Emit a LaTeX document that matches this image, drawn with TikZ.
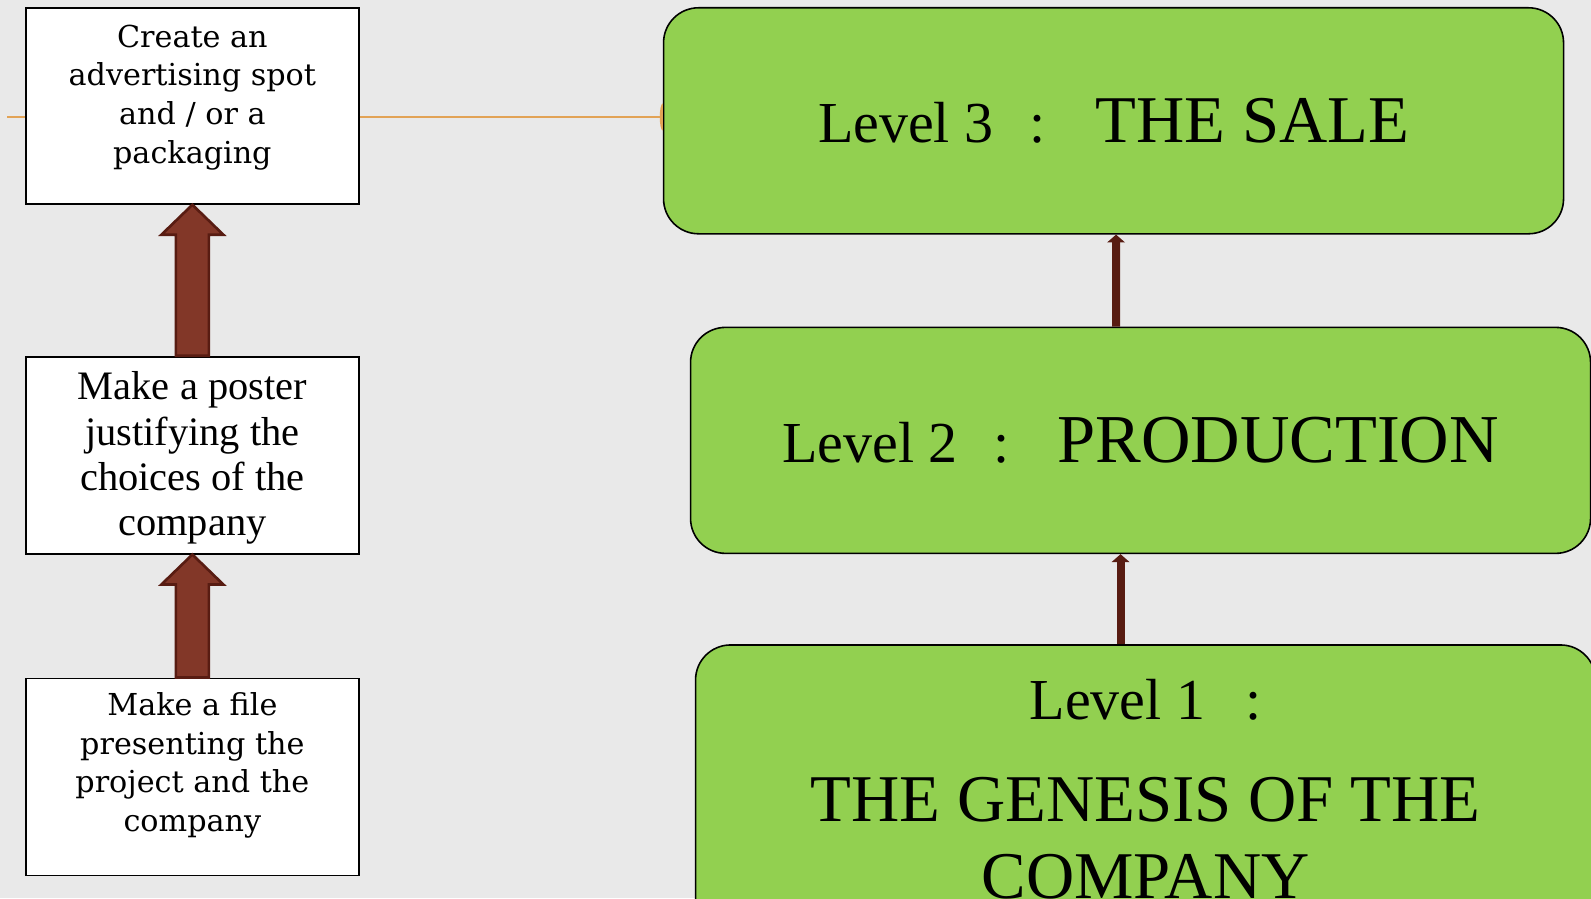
\documentclass[tikz,border=0pt]{standalone}
\usepackage{fontspec}
\setmainfont{Liberation Serif}
\newfontfamily\bookfont{DejaVu Serif}
\usepackage{xcolor}
\usepackage{tikz}
\usetikzlibrary{arrows.meta,positioning,calc}

\definecolor{slidegray}{RGB}{233,233,233}
\definecolor{levelgreen}{RGB}{146,208,80}
\definecolor{linkorange}{RGB}{226,163,86}
\definecolor{arrowbrown}{RGB}{130,55,40}
\definecolor{arrowdark}{RGB}{88,28,18}

\begin{document}
\begin{tikzpicture}[
    task/.style={rectangle, draw, line width=1pt, fill=white, minimum width=6.66cm, minimum height=3.92cm, align=center, inner sep=0pt},
    tasktext/.style={align=center, font=\bookfont\fontsize{17.2}{22}\selectfont},
    level/.style={rectangle, rounded corners=0.7cm, draw, line width=0.9pt, fill=levelgreen, minimum width=18cm, minimum height=4.52cm, align=center, inner sep=0pt},
    lvl/.style={font=\fontsize{33}{40}\selectfont},
    blockarrow/.style={fill=arrowbrown, draw=arrowdark, line width=1.5pt, line join=miter},
    thinarrow/.style={draw=arrowdark, line width=4.5pt, -{Triangle[width=10pt,length=4.5pt]}},
    link/.style={draw=linkorange, line width=1.2pt}
]

% Slide background
\useasboundingbox[fill=slidegray] (0,0) rectangle (31.82,-17.96);

% Task boxes (left column)
\node[task, anchor=north west, label={[tasktext, yshift=0.17cm]center:Create an\\advertising spot\\and / or a\\packaging}] (create_spot) at (0.5,-0.14) {};
\node[task, below=3.02cm of create_spot, minimum height=3.94cm, label={[align=center, font=\fontsize{23}{25.8}\selectfont, yshift=-0.06cm]center:Make a poster\\justifying the\\choices of the\\company}] (make_poster) {};
\node[task, below=2.46cm of make_poster, minimum height=3.94cm, label={[tasktext, yshift=0.23cm]center:Make a file\\presenting the\\project and the\\company}] (make_file) {};

% Level boxes (right column)
\node[level, right=6.06cm of create_spot.north east, anchor=north west, font=\fontsize{38}{45}\selectfont] (sale) {{\fontsize{33}{40}\selectfont Level 3\hspace{0.72cm}:\hspace{1cm}}THE SALE};
\node[level, below=1.84cm of sale, xshift=0.54cm, font=\fontsize{39}{45}\selectfont] (production) {{\fontsize{33}{40}\selectfont Level 2\hspace{0.72cm}:\hspace{0.95cm}}PRODUCTION};
\node[level, below=1.8cm of production, xshift=0.1cm, minimum height=5.78cm, font=\fontsize{38}{44}\selectfont] (genesis) {{\fontsize{33}{40}\selectfont Level 1\hspace{0.8cm}:}\\[13.6pt]THE GENESIS OF THE\\COMPANY};

% Orange link line
\coordinate (link_start) at (0.14,-2.34);
\coordinate (link_end) at (link_start -| sale.west);
\draw[link] (link_start) -- (link_start -| create_spot.west);
\draw[link] (create_spot.east |- link_start) -- (link_end);
\fill[linkorange] ([yshift=0.27cm]link_end) arc[start angle=90, end angle=270, x radius=0.06cm, y radius=0.27cm] -- cycle;

% Block arrows - left column
\draw[blockarrow] ($(make_poster.north)+(-0.33,0)$) -- ($(create_spot.south)+(-0.33,-0.6)$) -- ($(create_spot.south)+(-0.62,-0.6)$) -- (create_spot.south) -- ($(create_spot.south)+(0.62,-0.6)$) -- ($(create_spot.south)+(0.33,-0.6)$) -- ($(make_poster.north)+(0.33,0)$) -- cycle;
\draw[blockarrow] ($(make_file.north)+(-0.33,0)$) -- ($(make_poster.south)+(-0.33,-0.6)$) -- ($(make_poster.south)+(-0.62,-0.6)$) -- (make_poster.south) -- ($(make_poster.south)+(0.62,-0.6)$) -- ($(make_poster.south)+(0.33,-0.6)$) -- ($(make_file.north)+(0.33,0)$) -- cycle;

% Thin arrows - right column
\draw[thinarrow] ([xshift=-0.49cm]production.north) -- ([xshift=0.05cm]sale.south);
\draw[thinarrow] ([xshift=-0.5cm]genesis.north) -- ([xshift=-0.4cm]production.south);

\end{tikzpicture}
\end{document}
